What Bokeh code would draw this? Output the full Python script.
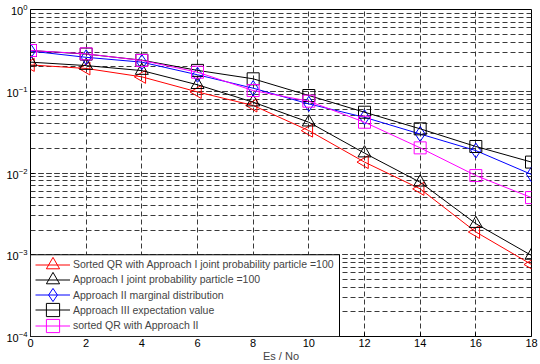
import math
from bokeh.plotting import figure
from bokeh.models import Legend, LegendItem, Label, FixedTicker, BoxAnnotation
from bokeh.embed import file_html
from bokeh.resources import INLINE

# Es/No in dB
snr = [0, 2, 4, 6, 8, 10, 12, 14, 16, 18]

# error rates of the five detectors
sorted_qr_joint = [0.21, 0.19, 0.15, 0.098, 0.067, 0.033, 0.0136, 0.0064, 0.0019, 0.00076]
approach1_joint = [0.227, 0.206, 0.179, 0.12, 0.0735, 0.0418, 0.0175, 0.0077, 0.0024, 0.00098]
approach2_marginal = [0.31, 0.26, 0.227, 0.159, 0.109, 0.070, 0.048, 0.030, 0.0188, 0.0096]
approach3_expect = [0.315, 0.285, 0.24, 0.18, 0.142, 0.0887, 0.0554, 0.0347, 0.0211, 0.0136]
sorted_qr_app2 = [0.315, 0.287, 0.238, 0.171, 0.102, 0.0756, 0.0418, 0.0203, 0.0093, 0.0050]

labels = [
    "Sorted QR with Approach I joint probability particle =100",
    "Approach I joint probability particle =100",
    "Approach II marginal distribution",
    "Approach III expectation value",
    "sorted QR with Approach II",
]

FONT = "Liberation Sans"

p = figure(width=540, height=364, x_range=(0, 18), y_range=(1e-4, 1),
           y_axis_type="log", output_backend="svg", toolbar_location=None,
           min_border_left=30, min_border_right=9, min_border_top=9,
           min_border_bottom=28)
p.outline_line_color = "black"
p.outline_line_width = 1
p.background_fill_color = "white"
p.border_fill_color = "white"

p.xaxis.ticker = FixedTicker(ticks=snr)
p.xaxis.axis_label = "Es / No"
p.xaxis.axis_label_standoff = 0
p.xaxis.axis_label_text_font = FONT
p.xaxis.axis_label_text_font_style = "normal"
p.xaxis.axis_label_text_font_size = "11px"
p.xaxis.major_label_standoff = 2

for ax in (p.xaxis[0], p.yaxis[0]):
    ax.axis_line_color = None
    ax.major_tick_in = 4
    ax.major_tick_out = 0
    ax.minor_tick_in = 0
    ax.minor_tick_out = 0
    ax.major_tick_line_color = "black"
    ax.major_label_text_font = FONT
    ax.major_label_text_font_size = "11px"
    ax.major_label_text_color = "black"
p.yaxis.major_label_standoff = 3

grid_color = "#3a3a3a"
grid_dash = "5 3"
p.xgrid.grid_line_color = grid_color
p.xgrid.grid_line_dash = grid_dash
p.ygrid.grid_line_color = grid_color
p.ygrid.grid_line_dash = grid_dash
p.ygrid.minor_grid_line_color = grid_color
p.ygrid.minor_grid_line_dash = grid_dash

# faint y-axis title at the far left edge
p.add_layout(Label(x=-30, y=163, x_units="screen", y_units="screen",
                   text="BER", angle=math.pi / 2, text_align="center",
                   text_baseline="top", text_font=FONT,
                   text_font_size="11px", text_color="#e4e4e4"))

series = [
    (sorted_qr_joint, "#ff0000", "triangle", math.pi / 2, 13),
    (approach1_joint, "black", "triangle", 0.0, 13),
    (approach2_marginal, "#0000ff", "diamond", 0.0, 15),
    (approach3_expect, "black", "square", 0.0, 12),
    (sorted_qr_app2, "#ff00ff", "square", 0.0, 12),
]

items = []
for (vals, color, marker, ang, size), lab in zip(series, labels):
    ln = p.line(snr, vals, line_color=color, line_width=1)
    sc = p.scatter(snr, vals, marker=marker, angle=ang, size=size,
                   fill_color=None, line_color=color, line_width=1)
    items.append(LegendItem(label=lab, renderers=[ln, sc]))

# legend frame: white box in the lower-left corner of the plot area,
# reaching up to the 1e-3 grid line
p.add_layout(BoxAnnotation(left=0, right=309, bottom=1e-4, top=1e-3,
                           left_units="data", right_units="screen",
                           bottom_units="data", top_units="data",
                           fill_color="white", fill_alpha=1.0,
                           line_color="black", line_alpha=1.0, line_width=1))

# one transparent legend per entry: tall glyph cells keep the sample
# markers full size while the rows sit 15px apart
ROW_PITCH = 15.2
CELL = 33
for i, item in enumerate(items):
    row_from_bottom = len(items) - 1 - i
    center = 11 + row_from_bottom * ROW_PITCH
    p.add_layout(Legend(items=[item], location=(5, center - CELL / 2),
                        margin=0, padding=0, spacing=0, glyph_width=35,
                        glyph_height=CELL, label_height=CELL, label_standoff=3,
                        label_text_font=FONT, label_text_font_size="10.5px",
                        border_line_color=None, background_fill_alpha=0.0))

open("out.html", "w").write(file_html(p, INLINE))
